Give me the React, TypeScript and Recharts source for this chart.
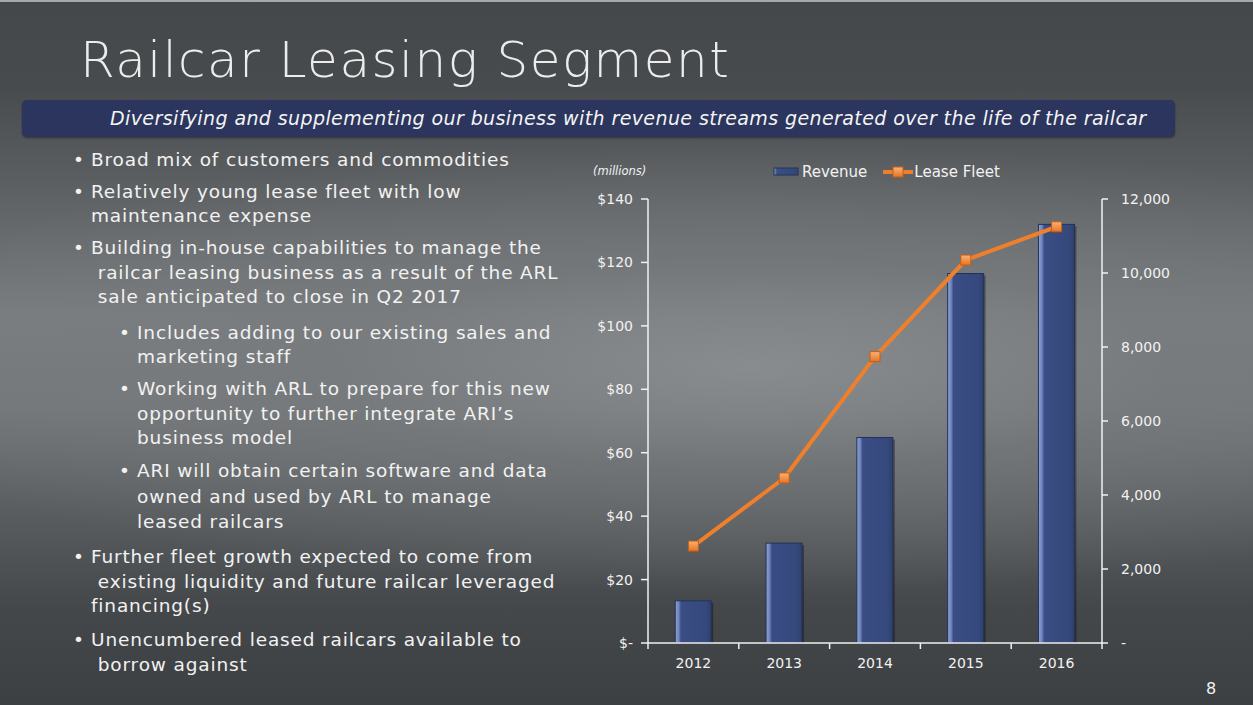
import React from "react";
import {
  ComposedChart,
  Bar,
  Line,
  XAxis,
  YAxis,
  Legend,
} from "recharts";

const years = ["2012", "2013", "2014", "2015", "2016"];
const revenue = [13.3, 31.5, 64.8, 116.5, 132];
const leaseFleet = [2620, 4460, 7740, 10350, 11250];
const leftTicks = [0, 20, 40, 60, 80, 100, 120, 140];
const rightTicks = [0, 2000, 4000, 6000, 8000, 10000, 12000];

const title = "Railcar Leasing Segment";
const subtitle =
  "Diversifying and supplementing our business with revenue streams generated over the life of the railcar";

// [text, level (0 bullet, 1 continuation, 2 sub-bullet, 3 sub continuation), centre y]
const bulletLines: [string, number, number][] = [
  ["Broad mix of customers and commodities", 0, 160],
  ["Relatively young lease fleet with low", 0, 192],
  ["maintenance expense", 1, 216],
  ["Building in-house capabilities to manage the", 0, 248],
  ["\u00a0railcar leasing business as a result of the ARL", 1, 273],
  ["\u00a0sale anticipated to close in Q2 2017", 1, 297],
  ["Includes adding to our existing sales and", 2, 333],
  ["marketing staff", 3, 357],
  ["Working with ARL to prepare for this new", 2, 389],
  ["opportunity to further integrate ARI\u2019s", 3, 414],
  ["business model", 3, 438],
  ["ARI will obtain certain software and data", 2, 471],
  ["owned and used by ARL to manage", 3, 497],
  ["leased railcars", 3, 522],
  ["Further fleet growth expected to come from", 0, 557],
  ["\u00a0existing liquidity and future railcar leveraged", 1, 582],
  ["financing(s)", 1, 606],
  ["Unencumbered leased railcars available to", 0, 640],
  ["\u00a0borrow against", 1, 665],
];

const data = years.map((y, i) => ({
  year: y,
  revenue: revenue[i],
  fleet: leaseFleet[i],
}));

const FONT = "'DejaVu Sans', sans-serif";
const TEXT = "#f2f2f2";

const XTick = (props: any) => {
  const { x, y, payload, index } = props;
  const off = payload && payload.offset ? payload.offset : 45.4;
  return (
    <g>
      <line x1={x - off} y1={y} x2={x - off} y2={y + 6} stroke="#f0f0f0" strokeWidth={1.5} />
      {index === years.length - 1 && (
        <line x1={x + off} y1={y} x2={x + off} y2={y + 6} stroke="#f0f0f0" strokeWidth={1.5} />
      )}
      <text x={x} y={y + 25} textAnchor="middle" fill={TEXT} fontSize={14} fontFamily={FONT}>
        {payload.value}
      </text>
    </g>
  );
};

const BarShape = (props: any) => {
  const { x, y, width, height } = props;
  if (!height || height <= 0) return null;
  return (
    <g>
      <rect x={x + 2} y={y + 2} width={width} height={height - 2} fill="rgba(0,0,0,0.35)" />
      <rect x={x} y={y} width={width} height={height} fill="url(#barGrad)" stroke="#243257" strokeWidth={1} />
    </g>
  );
};

const SquareDot = (props: any) => {
  const { cx, cy } = props;
  if (cx == null || cy == null) return null;
  return (
    <rect x={cx - 5} y={cy - 5} width={10} height={10} fill="url(#dotGrad)" stroke="#c45e14" strokeWidth={1} />
  );
};

const LegendContent = () => (
  <div
    style={{
      display: "flex",
      alignItems: "center",
      fontFamily: FONT,
      fontSize: 15,
      color: TEXT,
      whiteSpace: "nowrap",
      height: 17,
    }}
  >
    <svg width={26} height={10} style={{ marginRight: 3 }}>
      <rect x={1} y={1} width={24} height={7} fill="url(#barGradL)" stroke="#243257" strokeWidth={1} />
    </svg>
    <span style={{ marginRight: 16 }}>Revenue</span>
    <svg width={30} height={12} style={{ marginRight: 1 }}>
      <line x1={0} y1={6} x2={30} y2={6} stroke="#f07f2c" strokeWidth={4} />
      <rect x={10} y={1} width={10} height={10} fill="url(#dotGradL)" stroke="#c45e14" strokeWidth={1} />
    </svg>
    <span>Lease Fleet</span>
  </div>
);

const bodyText: React.CSSProperties = {
  position: "absolute",
  lineHeight: "24px",
  fontSize: 18.5,
  letterSpacing: 0.85,
  color: TEXT,
  whiteSpace: "pre",
};

export default function App() {
  return (
    <div
      style={{
        position: "absolute",
        left: 0,
        top: 0,
        width: 1253,
        height: 705,
        overflow: "hidden",
        fontFamily: FONT,
        background:
          "radial-gradient(ellipse 75% 32% at 60% 52%, rgba(138,141,143,0.95) 0%, rgba(120,123,125,0.6) 45%, rgba(90,93,96,0) 100%), linear-gradient(180deg, #45484b 0%, #484b4e 12%, #5f6265 28%, #7b7e80 45%, #75787a 58%, #5b5e61 72%, #45484b 86%, #3d4043 100%)",
      }}
    >
      <div style={{ position: "absolute", left: 0, top: 0, width: 1253, height: 2, background: "#a8a8a8" }} />
      <div
        style={{
          position: "absolute",
          left: 80,
          top: 25,
          fontSize: 50,
          letterSpacing: 1.5,
          color: "#ececec",
          fontWeight: 300,
          whiteSpace: "nowrap",
          lineHeight: "70px",
        }}
      >
        {title}
      </div>
      <div
        style={{
          position: "absolute",
          left: 22,
          top: 100,
          width: 1153,
          height: 37,
          background: "#2b355d",
          borderRadius: 5,
          boxShadow: "0 1px 2px rgba(0,0,0,0.4)",
        }}
      />
      <div
        style={{
          position: "absolute",
          left: 110,
          top: 100,
          height: 37,
          lineHeight: "37px",
          fontSize: 19,
          letterSpacing: 0.4,
          fontStyle: "italic",
          color: "#f4f4f4",
          whiteSpace: "nowrap",
        }}
      >
        {subtitle}
      </div>
      {bulletLines.map(([t, lvl, cy], i) => {
        const left = lvl === 0 || lvl === 1 ? 91 : 137;
        return (
          <React.Fragment key={i}>
            {(lvl === 0 || lvl === 2) && (
              <div style={{ ...bodyText, left: lvl === 0 ? 73 : 119, top: cy - 12 }}>•</div>
            )}
            <div style={{ ...bodyText, left, top: cy - 12 }}>{t}</div>
          </React.Fragment>
        );
      })}
      <div
        style={{
          position: "absolute",
          left: 593,
          top: 164,
          fontSize: 11.5,
          fontStyle: "italic",
          color: TEXT,
        }}
      >
        (millions)
      </div>
      <div style={{ position: "absolute", left: 1206, top: 679, fontSize: 16, color: TEXT }}>8</div>
      <div style={{ position: "absolute", left: 560, top: 150 }}>
        <ComposedChart
          width={622}
          height={533}
          data={data}
          margin={{ top: 32, right: 0, bottom: 0, left: 0 }}
          barCategoryGap="30%"
        >
          <defs>
            <linearGradient id="barGrad" x1="0" y1="0" x2="1" y2="0">
              <stop offset="0%" stopColor="#8ea2d6" />
              <stop offset="10%" stopColor="#6f84bd" />
              <stop offset="16%" stopColor="#3a4d84" />
              <stop offset="85%" stopColor="#36497d" />
              <stop offset="100%" stopColor="#2e3f6e" />
            </linearGradient>
            <linearGradient id="barGradL" x1="0" y1="0" x2="1" y2="0">
              <stop offset="0%" stopColor="#8ea2d6" />
              <stop offset="12%" stopColor="#3a4d84" />
              <stop offset="100%" stopColor="#34477b" />
            </linearGradient>
            <linearGradient id="dotGrad" x1="0" y1="0" x2="0" y2="1">
              <stop offset="0%" stopColor="#f8b27a" />
              <stop offset="100%" stopColor="#e8741f" />
            </linearGradient>
            <linearGradient id="dotGradL" x1="0" y1="0" x2="0" y2="1">
              <stop offset="0%" stopColor="#f8b27a" />
              <stop offset="100%" stopColor="#e8741f" />
            </linearGradient>
          </defs>
          <XAxis
            dataKey="year"
            tickLine={false}
            tickSize={0}
            tickMargin={0}
            axisLine={{ stroke: "#f0f0f0", strokeWidth: 1.5 }}
            tick={<XTick />}
            height={40}
            interval={0}
          />
          <YAxis
            yAxisId="left"
            domain={[0, 140]}
            ticks={leftTicks}
            width={88}
            tickSize={7}
            tickMargin={8}
            axisLine={{ stroke: "#f0f0f0", strokeWidth: 1.5 }}
            tickLine={{ stroke: "#f0f0f0", strokeWidth: 1.5 }}
            tick={{ fill: TEXT, fontSize: 14, fontFamily: FONT }}
            tickFormatter={(v: number) => (v === 0 ? "$-" : `$${v}`)}
          />
          <YAxis
            yAxisId="right"
            orientation="right"
            domain={[0, 12000]}
            ticks={rightTicks}
            width={80}
            tickSize={6}
            tickMargin={13}
            axisLine={{ stroke: "#f0f0f0", strokeWidth: 1.5 }}
            tickLine={{ stroke: "#f0f0f0", strokeWidth: 1.5 }}
            tick={{ fill: TEXT, fontSize: 14, fontFamily: FONT }}
            tickFormatter={(v: number) => (v === 0 ? "-" : v.toLocaleString("en-US"))}
          />
          <Legend
            verticalAlign="top"
            content={<LegendContent />}
            wrapperStyle={{ position: "absolute", top: 13, left: 213, width: 260 }}
          />
          <Bar
            yAxisId="left"
            dataKey="revenue"
            name="Revenue"
            shape={<BarShape />}
            isAnimationActive={false}
          />
          <Line
            yAxisId="right"
            dataKey="fleet"
            name="Lease Fleet"
            stroke="#f07f2c"
            strokeWidth={4}
            dot={<SquareDot />}
            activeDot={false}
            isAnimationActive={false}
          />
        </ComposedChart>
      </div>
    </div>
  );
}
